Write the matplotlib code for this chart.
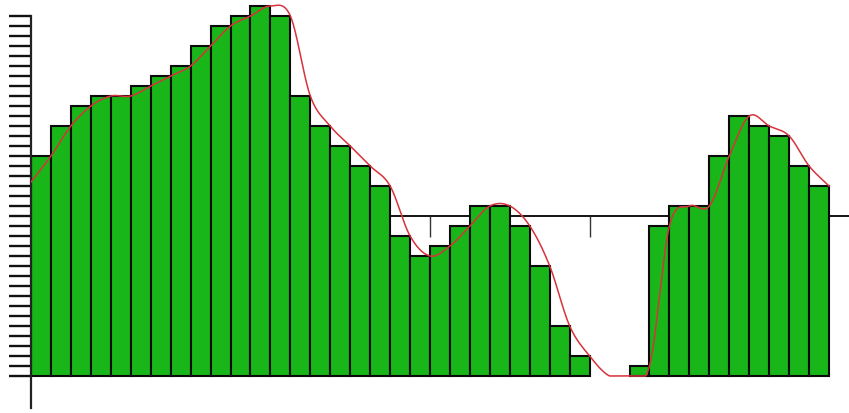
import numpy as np
import matplotlib
matplotlib.use("Agg")
import matplotlib.pyplot as plt

# bar heights, one per bin (left to right)
values = [22, 25, 27, 28, 28, 29, 30, 31, 33, 35,
          36, 37, 36, 28, 25, 23, 21, 19, 14, 12,
          13, 15, 17, 17, 15, 11, 5, 2, 0, 0,
          1, 15, 17, 17, 22, 26, 25, 24, 21, 19]
curve_start = 19.4      # where the red curve begins at the left axis
ref_level = 16          # middle reference line
ref_ticks = [4, 12, 20, 28, 36]


def smooth(x, y, xs):
    # Catmull-Rom style cubic through the knots, floored at zero
    x = np.asarray(x, float)
    y = np.asarray(y, float)
    m = np.gradient(y, x)
    h = np.diff(x)
    idx = np.clip(np.searchsorted(x, xs) - 1, 0, len(x) - 2)
    t = (xs - x[idx]) / h[idx]
    h00 = 2 * t**3 - 3 * t**2 + 1
    h10 = t**3 - 2 * t**2 + t
    h01 = -2 * t**3 + 3 * t**2
    h11 = t**3 - t**2
    out = (h00 * y[idx] + h10 * h[idx] * m[idx]
           + h01 * y[idx + 1] + h11 * h[idx] * m[idx + 1])
    return np.maximum(out, 0)


fig = plt.figure(figsize=(8.49, 4.13), dpi=100)
ax = fig.add_axes([31 / 849, 0, 818 / 849, 1])
ax.set_xlim(0, 41)
ax.set_ylim(-3.7, 37.6)

n = len(values)
pos = np.arange(n)
lw = [1.5 if v > 0 else 0 for v in values]
ax.bar(pos, values, width=1, align='edge', color='#19b619',
       edgecolor='#0a0a0a', linewidth=lw, zorder=2)

# reference line sits behind the bars
ax.axhline(ref_level, color='black', lw=1.3, zorder=1)
ax.vlines(ref_ticks, ref_level - 2.1, ref_level, color='#333333', lw=1.0, zorder=1)

# smooth curve through the top right corners of the bars
kx = np.arange(n + 1)
ky = [curve_start] + values
xs = np.linspace(0, n, 1200)
ax.plot(xs, smooth(kx, ky, xs), color='#d8323c', lw=1.1, zorder=3)

for s in ['top', 'right', 'bottom']:
    ax.spines[s].set_visible(False)
ax.spines['left'].set_linewidth(1.6)
ax.spines['left'].set_color('#222222')
ax.spines['left'].set_bounds(-3.2, 36)
ax.set_xticks([])
ax.set_yticks(np.arange(0, 37))
ax.tick_params(axis='y', direction='out', length=16, width=1.7,
               labelleft=False, color='#111111')

fig.savefig('out.png', dpi=100)
